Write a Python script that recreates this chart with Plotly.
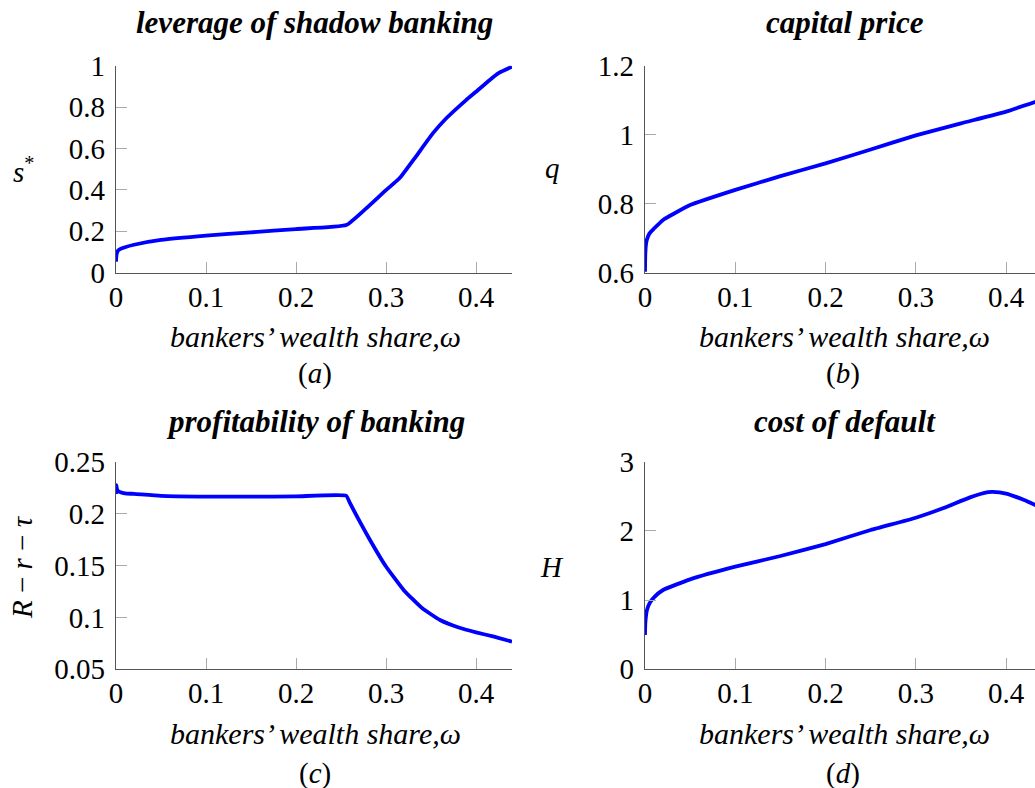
import plotly.graph_objects as go

W, H = 1035, 788

# ---- data ----
omega_a = [0.0, 0.0005, 0.002, 0.005, 0.01, 0.02, 0.05, 0.1, 0.15, 0.2, 0.2558,
           0.278, 0.3, 0.315, 0.333, 0.352, 0.367, 0.389, 0.4, 0.415, 0.426, 0.44]
s_star = [0.053, 0.085, 0.105, 0.115, 0.123, 0.135, 0.158, 0.179, 0.195, 0.211, 0.230,
          0.311, 0.399, 0.456, 0.560, 0.673, 0.746, 0.834, 0.874, 0.930, 0.966, 0.995]

omega_b = [0.0, 0.0003, 0.001, 0.002, 0.005, 0.01, 0.02, 0.05, 0.1, 0.15, 0.2,
           0.25, 0.3, 0.35, 0.4, 0.44]
q_vals = [0.603, 0.650, 0.680, 0.695, 0.714, 0.728, 0.753, 0.796, 0.840, 0.880, 0.917,
          0.957, 0.998, 1.033, 1.067, 1.102]

omega_c = [0.0, 0.0003, 0.001, 0.002, 0.005, 0.01, 0.02, 0.05, 0.1, 0.15, 0.2, 0.2558,
           0.26, 0.28, 0.3, 0.32, 0.34, 0.36, 0.38, 0.4, 0.42, 0.44]
profit = [0.219, 0.2275, 0.224, 0.222, 0.2205, 0.2195, 0.219, 0.217, 0.2163, 0.2163, 0.2166, 0.2172,
          0.210, 0.178, 0.149, 0.126, 0.109, 0.0975, 0.0905, 0.0856, 0.0815, 0.0766]

omega_d = [0.0, 0.0003, 0.001, 0.002, 0.005, 0.01, 0.02, 0.05, 0.1, 0.15, 0.2, 0.25,
           0.3, 0.33, 0.36, 0.38, 0.385, 0.4, 0.42, 0.44]
h_vals = [0.496, 0.65, 0.76, 0.85, 0.953, 1.04, 1.146, 1.30, 1.483, 1.637, 1.81, 2.013,
          2.19, 2.326, 2.485, 2.560, 2.565, 2.54, 2.446, 2.33]

x_ticks = [0, 0.1, 0.2, 0.3, 0.4]
x_tick_text = ["0", "0.1", "0.2", "0.3", "0.4"]
ya_ticks = [0, 0.2, 0.4, 0.6, 0.8, 1]
ya_text = ["0", "0.2", "0.4", "0.6", "0.8", "1"]
yb_ticks = [0.6, 0.8, 1.0, 1.2]
yb_text = ["0.6", "0.8", "1", "1.2"]
yc_ticks = [0.05, 0.1, 0.15, 0.2, 0.25]
yc_text = ["0.05", "0.1", "0.15", "0.2", "0.25"]
yd_ticks = [0, 1, 2, 3]
yd_text = ["0", "1", "2", "3"]

titles = ["leverage of shadow banking", "capital price",
          "profitability of banking", "cost of default"]
xlabel = "bankers’ wealth share,ω"
sublabels = ["(<i>a</i>)", "(<i>b</i>)", "(<i>c</i>)", "(<i>d</i>)"]
ylabels = ["<i>s</i><sup>*</sup>", "<i>q</i>", "<i>R</i> − <i>r</i> − <i>τ</i>", "<i>H</i>"]

# ---- layout geometry (screen pixels) ----
def px(x):
    return x / W

def py(y):
    return 1 - y / H

col_x = [(116, 512), (645, 1035)]
row_y = [(65.7, 272.7), (461.7, 669.3)]

SERIF = "Liberation Serif"
BLUE = "#0000ff"

fig = go.Figure()

panels = [
    (omega_a, s_star, [0, 0.44], [0, 1], ya_ticks, ya_text),
    (omega_b, q_vals, [0, 0.432], [0.6, 1.2], yb_ticks, yb_text),
    (omega_c, profit, [0, 0.44], [0.05, 0.25], yc_ticks, yc_text),
    (omega_d, h_vals, [0, 0.432], [0, 3], yd_ticks, yd_text),
]

layout_axes = {}
for i, (xs, ys, xr, yr, yt, ytt) in enumerate(panels):
    r, c = divmod(i, 2)
    n = "" if i == 0 else str(i + 1)
    fig.add_trace(go.Scatter(x=xs, y=ys, mode="lines",
                             line=dict(color=BLUE, width=3.8, shape="spline", smoothing=0.4),
                             xaxis="x" + n, yaxis="y" + n, showlegend=False,
                             cliponaxis=True))
    x0, x1 = col_x[c]
    y0, y1 = row_y[r]
    common = dict(showline=True, linecolor="#555555", linewidth=1.3, mirror=False,
                  ticks="inside", ticklen=11, tickwidth=1, tickcolor="#aaaaaa",
                  showgrid=False, zeroline=False, automargin=False,
                  tickfont=dict(family=SERIF, size=29, color="black"))
    layout_axes["xaxis" + n] = dict(common, domain=[px(x0), px(x1)], range=xr,
                                    tickvals=x_ticks, ticktext=x_tick_text,
                                    anchor="y" + n, ticklabelstandoff=-2)
    layout_axes["yaxis" + n] = dict(common, domain=[py(y1), py(y0)], range=yr,
                                    tickvals=yt, ticktext=ytt, anchor="x" + n,
                                    ticklabelstandoff=4)

annotations = []
title_pos = [(314, 23), (845, 23), (315, 421.7), (845, 421.7)]
xlab_pos = [(315, 336.7), (844, 336.7), (315, 733.3), (844, 733.3)]
sub_pos = [(315, 373), (843, 373), (315, 773.3), (843, 773.3)]
ylab_pos = [(23, 170), (552, 168), (22, 567), (552, 567)]
for i in range(4):
    annotations.append(dict(text="<b><i>" + titles[i] + "</i></b>", x=px(title_pos[i][0]),
                            y=py(title_pos[i][1]), xref="paper", yref="paper",
                            showarrow=False, xanchor="center", yanchor="middle",
                            font=dict(family=SERIF, size=31, color="black")))
    annotations.append(dict(text="<i>" + xlabel + "</i>", x=px(xlab_pos[i][0]),
                            y=py(xlab_pos[i][1]), xref="paper", yref="paper",
                            showarrow=False, xanchor="center", yanchor="middle",
                            font=dict(family=SERIF, size=30, color="black")))
    annotations.append(dict(text=sublabels[i], x=px(sub_pos[i][0]),
                            y=py(sub_pos[i][1]), xref="paper", yref="paper",
                            showarrow=False, xanchor="center", yanchor="middle",
                            font=dict(family=SERIF, size=29, color="black")))
    annotations.append(dict(text=ylabels[i], x=px(ylab_pos[i][0]),
                            y=py(ylab_pos[i][1]), xref="paper", yref="paper",
                            showarrow=False, xanchor="center", yanchor="middle",
                            textangle=-90 if i == 2 else 0,
                            font=dict(family=SERIF, size=29, color="black")))

fig.update_layout(width=W, height=H, margin=dict(l=0, r=0, t=0, b=0, autoexpand=False),
                  paper_bgcolor="white", plot_bgcolor="white",
                  annotations=annotations, **layout_axes)

# remove the default page margin so the figure fills the window exactly
fig.write_html("out.html",
               config={"displayModeBar": False},
               post_script="document.body.style.margin='0px';"
                           "document.body.style.overflow='hidden';")
